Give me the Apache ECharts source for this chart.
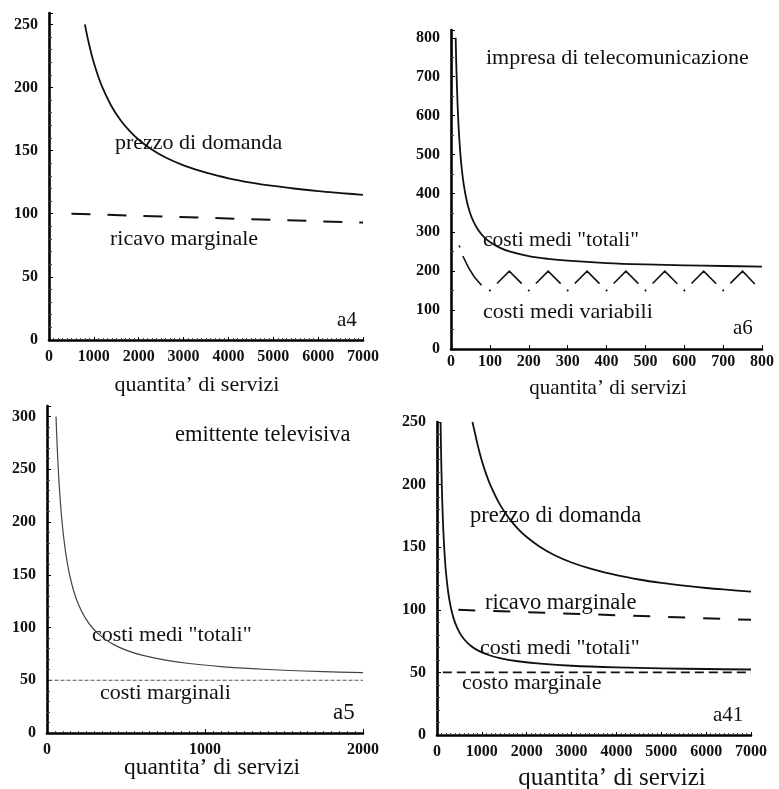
<!DOCTYPE html>
<html>
<head>
<meta charset="utf-8">
<script src="https://cdn.jsdelivr.net/npm/echarts@6/dist/echarts.min.js"></script>
<style>
  html, body { margin: 0; padding: 0; background: #fff; }
  #chart { width: 779px; height: 789px; }
</style>
</head>
<body>
<div id="chart"></div>
<script>
// ---- a4: demand price and marginal revenue --------------------------------
const a4Qty   = [800, 850, 900, 950, 1000, 1100, 1200, 1400, 1600, 1800, 2000, 2300, 2600, 3000, 3500, 4000, 4500, 5000, 5500, 6000, 6500, 7000];
const a4Price = [250, 241.1, 233.2, 226.0, 219.6, 208.5, 199.3, 184.7, 173.9, 165.4, 158.6, 150.6, 144.5, 138.3, 132.5, 128.1, 124.7, 122.0, 119.8, 117.9, 116.4, 115.0];
const a4MrQty = [500, 7000];
const a4Mr    = [100, 93];
const a4XTicks = [0, 1000, 2000, 3000, 4000, 5000, 6000, 7000];
const a4YTicks = [0, 50, 100, 150, 200, 250];

// ---- a6: telecom firm, average total and average variable cost -------------
const a6Qty      = [12, 14, 17, 20, 24, 28, 33, 40, 48, 57, 70, 85, 100, 125, 150, 200, 250, 300, 400, 500, 600, 700, 800];
const a6AvgTotal = [800, 717.3, 626.5, 563, 503, 460.1, 421.2, 383, 353, 329.3, 305.9, 287.7, 275, 260.6, 251, 239, 231.8, 227, 221, 217.4, 215, 213.3, 212];
const a6VarQty   = [18, 30, 45, 60, 80, 100, 150, 200, 250, 300, 350, 400, 450, 500, 550, 600, 650, 700, 750, 790];
const a6AvgVar   = [275, 240, 209, 185, 162, 150, 200, 150, 200, 150, 200, 150, 200, 150, 200, 150, 200, 150, 200, 158];
const a6XTicks = [0, 100, 200, 300, 400, 500, 600, 700, 800];
const a6YTicks = [0, 100, 200, 300, 400, 500, 600, 700, 800];

// ---- a5: TV broadcaster, average total and marginal cost -------------------
const a5Qty      = [57, 62, 68, 75, 85, 95, 110, 125, 145, 170, 200, 240, 290, 350, 420, 500, 600, 750, 900, 1100, 1300, 1500, 1750, 2000];
const a5AvgTotal = [300, 280.6, 260.3, 240.7, 218.2, 200.5, 180, 164.4, 148.6, 134.1, 121.5, 109.6, 99.3, 90.9, 84, 78.6, 73.8, 69.1, 65.9, 63, 61, 59.5, 58.2, 57.2];
const a5McQty = [10, 2000];
const a5Mc    = [50, 50];
const a5XTicks = [0, 1000, 2000];
const a5YTicks = [0, 50, 100, 150, 200, 250, 300];

// ---- a41: demand, marginal revenue, average total and marginal cost --------
const a41Qty      = [790, 850, 900, 950, 1000, 1100, 1200, 1400, 1600, 1800, 2000, 2300, 2600, 3000, 3500, 4000, 4500, 5000, 5500, 6000, 6500, 7000];
const a41Price    = [250, 240.6, 232.7, 225.5, 219.1, 208.0, 198.8, 184.2, 173.4, 164.9, 158.1, 150.1, 144.0, 137.8, 132.0, 127.6, 124.2, 121.5, 119.3, 117.4, 115.9, 114.5];
const a41MrQty    = [475, 7000];
const a41Mr       = [100, 92];
const a41CostQty  = [80, 90, 100, 115, 130, 150, 175, 200, 240, 280, 330, 400, 500, 600, 750, 900, 1100, 1400, 1800, 2300, 3000, 4000, 5000, 6000, 7000];
const a41AvgTotal = [250, 227.8, 210, 189.1, 173.1, 156.7, 141.4, 130, 116.7, 107.1, 98.5, 90, 82, 76.7, 71.3, 67.8, 64.5, 61.4, 58.9, 57.0, 55.3, 54, 53.2, 52.7, 52.3];
const a41McQty    = [130, 7000];
const a41Mc       = [50, 50];
const a41XTicks = [0, 1000, 2000, 3000, 4000, 5000, 6000, 7000];
const a41YTicks = [0, 50, 100, 150, 200, 250];

const SERIF = '"Liberation Serif", "Times New Roman", serif';
const INK = '#111';

const pairs = (xs, ys) => xs.map((x, i) => [x, ys[i]]);

function axis(gridIndex, ticks, max, o) {
  return {
    type: 'value',
    gridIndex,
    min: ticks[0],
    max,
    interval: ticks[1] - ticks[0],
    axisLine: { show: true, onZero: false, lineStyle: { color: '#000', width: 2.6 } },
    axisTick: { show: true, inside: true, length: o.tick, lineStyle: { color: '#000', width: 1 } },
    minorTick: { show: o.minor > 0, splitNumber: o.minor || 2, length: o.minorLen || 3, lineStyle: { color: '#444', width: 1 } },
    splitLine: { show: false },
    minorSplitLine: { show: false },
    axisLabel: {
      margin: o.margin,
      color: INK,
      fontFamily: SERIF,
      fontWeight: 'bold',
      fontSize: 16,
      showMinLabel: true,
      showMaxLabel: true,
      formatter: v => (ticks.indexOf(v) >= 0 ? String(v) : '')
    }
  };
}

function line(xi, data, style, extra) {
  return Object.assign({
    type: 'line',
    xAxisIndex: xi,
    yAxisIndex: xi,
    data,
    symbol: 'none',
    showSymbol: false,
    silent: true,
    lineStyle: Object.assign({ color: INK, width: 1.6, cap: 'butt', join: 'round' }, style)
  }, extra || {});
}

function label(text, x, y, size, align) {
  return {
    type: 'text',
    x, y,
    silent: true,
    style: {
      text,
      fill: INK,
      font: size + 'px ' + SERIF,
      align: align || 'left',
      verticalAlign: 'middle'
    }
  };
}

// hyperbola-like cost and demand curves are drawn with gentle spline smoothing
const smoothCurve = { smooth: 0.35 };

const chart = echarts.init(document.getElementById('chart'), null, { renderer: 'canvas' });

chart.setOption({
  backgroundColor: '#fff',
  animation: false,
  grid: [
    { left: 49,  top: 13,  width: 314, height: 327, outerBoundsMode: 'none' },   // a4
    { left: 451, top: 30,  width: 311, height: 319, outerBoundsMode: 'none' },   // a6
    { left: 47,  top: 406, width: 316, height: 327, outerBoundsMode: 'none' },   // a5
    { left: 437, top: 422, width: 314, height: 313, outerBoundsMode: 'none' }    // a41
  ],
  xAxis: [
    axis(0, a4XTicks, 7000, { tick: 3, minor: 10, minorLen: 2, margin: 9 }),
    axis(1, a6XTicks, 800,  { tick: 4, minor: 0, margin: 5 }),
    axis(2, a5XTicks, 2000, { tick: 4, minor: 20, minorLen: 2, margin: 9 }),
    axis(3, a41XTicks, 7000, { tick: 3, minor: 10, minorLen: 2, margin: 9 })
  ],
  yAxis: [
    axis(0, a4YTicks, 259, { tick: 4, minor: 5, margin: 11 }),
    axis(1, a6YTicks, 820, { tick: 4, minor: 2, margin: 11 }),
    axis(2, a5YTicks, 310, { tick: 4, minor: 5, margin: 11 }),
    axis(3, a41YTicks, 250, { tick: 4, minor: 5, margin: 11 })
  ],
  series: [
    // a4
    line(0, pairs(a4Qty, a4Price), { width: 1.8 }, smoothCurve),
    line(0, pairs(a4MrQty, a4Mr), { width: 2, type: [19, 17] }),
    // a6
    line(1, pairs(a6Qty, a6AvgTotal), { width: 1.8 }, smoothCurve),
    line(1, pairs(a6VarQty, a6AvgVar), { width: 1.6, type: [35, 9, 2, 9.02], dashOffset: 40.25, join: 'miter' }),
    // a5
    line(2, pairs(a5Qty, a5AvgTotal), { width: 1.2, color: '#444' }, smoothCurve),
    line(2, pairs(a5McQty, a5Mc), { width: 1, color: '#555', type: [4, 2] }),
    // a41
    line(3, pairs(a41Qty, a41Price), { width: 1.8 }, smoothCurve),
    line(3, pairs(a41MrQty, a41Mr), { width: 2, type: [17, 18] }),
    line(3, pairs(a41CostQty, a41AvgTotal), { width: 1.8 }, smoothCurve),
    line(3, pairs(a41McQty, a41Mc), { width: 1.8, type: [9, 5] })
  ],
  graphic: [
    // a4
    label('prezzo di domanda', 115, 143, 22),
    label('ricavo marginale', 110, 239, 22),
    label('a4', 337, 320, 21),
    label('quantita\u2019 di servizi', 197, 385, 22, 'center'),
    // a6
    label('impresa di telecomunicazione', 486, 58, 22),
    label('costi medi "totali"', 483, 240, 21.5),
    label('costi medi variabili', 483, 312, 22),
    label('a6', 733, 328, 21),
    label('quantita\u2019 di servizi', 608, 388, 21, 'center'),
    // a5
    label('emittente televisiva', 175, 435, 22.5),
    label('costi medi "totali"', 92, 635, 22),
    label('costi marginali', 100, 693, 22),
    label('a5', 333, 713, 23),
    label('quantita\u2019 di servizi', 212, 768, 23.5, 'center'),
    // a41
    label('prezzo di domanda', 470, 516, 22.5),
    label('ricavo marginale', 485, 603, 22.5),
    label('costi medi "totali"', 480, 648, 22),
    label('costo marginale', 462, 683, 22),
    label('a41', 713, 715, 21),
    label('quantita\u2019 di servizi', 612, 778, 25, 'center')
  ]
});
</script>
</body>
</html>
